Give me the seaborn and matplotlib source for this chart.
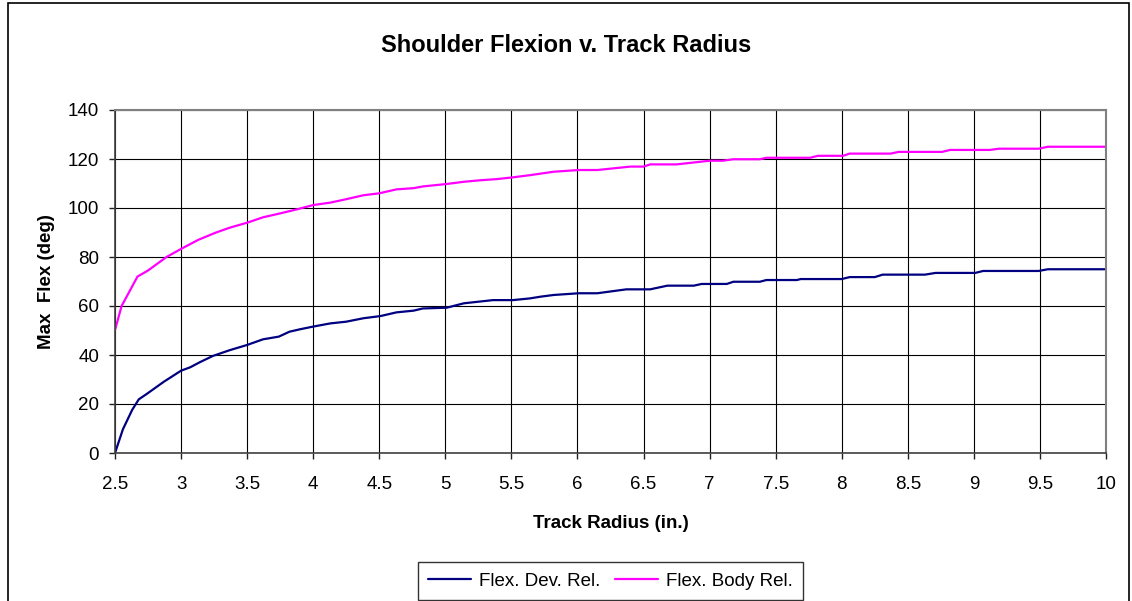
import matplotlib
matplotlib.use("Agg")
import matplotlib.pyplot as plt
from matplotlib.patches import Rectangle
import seaborn as sns
import pandas as pd

# Maximum shoulder flexion (deg) as a function of track radius (in.)
dev_radius = [2.50, 2.56, 2.63, 2.68, 2.74, 2.87, 3.00, 3.07, 3.14, 3.24, 3.37,
              3.50, 3.62, 3.74, 3.82, 3.90, 4.00, 4.13, 4.25, 4.38, 4.51, 4.63,
              4.76, 4.83, 5.01, 5.14, 5.36, 5.51, 5.64, 5.72, 5.82, 6.01, 6.15,
              6.37, 6.55, 6.68, 6.88, 6.94, 7.13, 7.18, 7.38, 7.43, 7.66, 7.69,
              8.00, 8.06, 8.25, 8.31, 8.63, 8.71, 9.01, 9.07, 9.49, 9.56, 10.00]
dev_flex = [0.0, 9.7, 17.6, 21.9, 24.1, 29.1, 33.6, 35.0, 37.0, 39.6, 42.0,
            44.1, 46.4, 47.5, 49.5, 50.5, 51.6, 52.9, 53.6, 55.0, 55.9, 57.4,
            58.1, 59.0, 59.3, 61.1, 62.4, 62.4, 63.1, 63.8, 64.5, 65.2, 65.2,
            66.8, 66.8, 68.3, 68.3, 69.0, 69.0, 69.9, 69.9, 70.6, 70.6, 71.0,
            71.0, 71.8, 71.8, 72.8, 72.8, 73.5, 73.5, 74.3, 74.3, 75.0, 75.0]

body_radius = [2.50, 2.55, 2.67, 2.75, 2.89, 3.00, 3.13, 3.26, 3.37, 3.50, 3.62,
               3.75, 3.88, 4.00, 4.13, 4.25, 4.38, 4.50, 4.63, 4.76, 4.83, 5.01,
               5.14, 5.26, 5.39, 5.51, 5.64, 5.82, 6.01, 6.15, 6.40, 6.50, 6.55,
               6.75, 7.00, 7.10, 7.18, 7.38, 7.43, 7.76, 7.82, 8.01, 8.06, 8.37,
               8.43, 8.76, 8.82, 9.12, 9.19, 9.49, 9.56, 10.00]
body_flex = [50.2, 60.0, 72.0, 74.5, 80.0, 83.3, 87.0, 89.9, 92.0, 94.0, 96.2,
             97.8, 99.5, 101.2, 102.2, 103.6, 105.2, 106.0, 107.6, 108.1, 108.8, 109.8,
             110.7, 111.3, 111.8, 112.5, 113.4, 114.8, 115.5, 115.5, 116.9, 116.9, 117.8,
             117.8, 119.3, 119.3, 119.9, 119.9, 120.5, 120.5, 121.3, 121.3, 122.2, 122.2,
             122.9, 122.9, 123.7, 123.7, 124.2, 124.2, 125.0, 125.0]

series_names = ["Flex. Dev. Rel.", "Flex. Body Rel."]
series_colors = ["#000080", "#FF00FF"]

x_ticks = [2.5, 3, 3.5, 4, 4.5, 5, 5.5, 6, 6.5, 7, 7.5, 8, 8.5, 9, 9.5, 10]
y_ticks = [0, 20, 40, 60, 80, 100, 120, 140]

df = pd.concat([
    pd.DataFrame({"radius": dev_radius, "flex": dev_flex, "series": series_names[0]}),
    pd.DataFrame({"radius": body_radius, "flex": body_flex, "series": series_names[1]}),
], ignore_index=True)

sns.set_style("white")
plt.rcParams["font.family"] = ["Liberation Sans", "DejaVu Sans"]
plt.rcParams["text.color"] = "black"
plt.rcParams["axes.labelcolor"] = "black"
plt.rcParams["xtick.color"] = "black"
plt.rcParams["ytick.color"] = "black"

fig = plt.figure(figsize=(11.32, 6.01), dpi=100)
ax = fig.add_axes([115 / 1132, 1 - 453 / 601, (1106 - 115) / 1132, (453 - 110) / 601])

sns.lineplot(data=df, x="radius", y="flex", hue="series", hue_order=series_names,
             palette=dict(zip(series_names, series_colors)), sort=False,
             estimator=None, linewidth=1.6, ax=ax, legend=False)

ax.set_xlim(2.5, 10)
ax.set_ylim(0, 140)
ax.set_xticks(x_ticks)
ax.set_xticklabels([f"{t:g}" for t in x_ticks])
ax.set_yticks(y_ticks)
ax.grid(True, color="black", linewidth=0.8)
ax.set_axisbelow(True)

for side in ("top", "right"):
    ax.spines[side].set_color("#808080")
    ax.spines[side].set_linewidth(1.5)
for side in ("left", "bottom"):
    ax.spines[side].set_color("#404040")
    ax.spines[side].set_linewidth(1.2)

ax.tick_params(axis="x", direction="out", length=4.5, width=1, color="#202020",
               labelcolor="black", pad=12, labelsize=13.5, bottom=True)
ax.tick_params(axis="y", direction="out", length=4.5, width=1, color="#202020",
               labelcolor="black", pad=7, labelsize=13.5, left=True)

ax.set_xlabel("Track Radius (in.)", fontsize=13.5, fontweight="bold", labelpad=16,
              color="black")
ax.set_ylabel("Max  Flex (deg)", fontsize=13.5, fontweight="bold", labelpad=9,
              color="black")

fig.text(0.5, 1 - 45 / 601, "Shoulder Flexion v. Track Radius", ha="center",
         va="center", fontsize=17, fontweight="bold", color="black")

handles = [plt.Line2D([], [], color=c, linewidth=1.6) for c in series_colors]
leg = fig.legend(handles, series_names, loc="center",
                 bbox_to_anchor=(610.5 / 1132, 1 - 581 / 601), ncol=2,
                 fontsize=13.5, frameon=True, fancybox=False, shadow=False,
                 handlelength=2.3, handletextpad=0.4, columnspacing=0.8,
                 borderpad=0.55)
leg.get_frame().set_edgecolor("black")
leg.get_frame().set_linewidth(1.0)
for txt in leg.get_texts():
    txt.set_color("black")

# outer chart-area border
fig.patches.append(Rectangle((8 / 1132, -0.05), (1129 - 8) / 1132, 1.05 - 3 / 601,
                             transform=fig.transFigure, fill=False,
                             edgecolor="black", linewidth=1.2))

fig.savefig("out.png", dpi=100)
